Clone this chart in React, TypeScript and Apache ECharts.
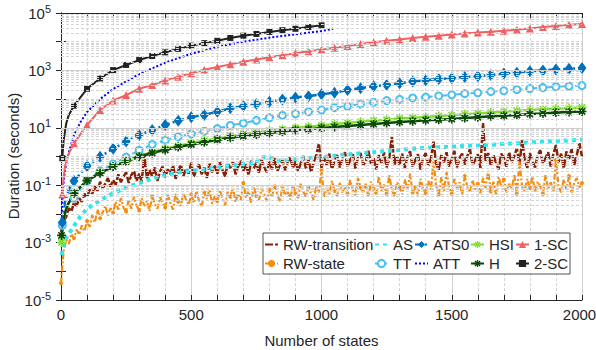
import React, { useEffect, useRef } from "react";
import * as echarts from "echarts";

const FONT = "'Liberation Sans', Arial, Helvetica, sans-serif";
const TEXT = "#262626";

// ---- axes ----
const xName = "Number of states";
const yName = "Duration (seconds)";
const yLabelExponents = [-5, -3, -1, 1, 3, 5];

// ---- shared x positions (states) ----
const states50 = [50, 100, 150, 200, 250, 300, 350, 400, 450, 500, 550, 600, 650, 700, 750, 800, 850, 900, 950, 1000,
  1050, 1100, 1150, 1200, 1250, 1300, 1350, 1400, 1450, 1500, 1550, 1600, 1650, 1700, 1750, 1800, 1850, 1900, 1950, 2000];

// ---- series values (log10 of seconds) ----
const sc2States = [5, 10, 20, 30, 50, 100, 150, 200, 250, 300, 350, 400, 450, 500, 550, 600, 650, 700, 750, 800, 850, 900, 950, 1000];
const sc2Log = [-0.06, 0.55, 1.15, 1.45, 1.77, 2.36, 2.72, 3.01, 3.19, 3.36, 3.50, 3.63, 3.75, 3.86, 3.95, 4.03, 4.13, 4.21, 4.27, 4.34, 4.40, 4.45, 4.51, 4.57];

const sc1Early = [5, 10, 15, 22, 30];
const sc1Log = [-1.32, -0.7, -0.35, -0.12, 0.1,
  0.46, 1.10, 1.62, 1.95, 2.14, 2.36, 2.49, 2.65, 2.78, 2.90, 3.02, 3.12, 3.21, 3.30, 3.38, 3.46, 3.53, 3.60, 3.67, 3.73,
  3.79, 3.85, 3.92, 3.98, 4.03, 4.08, 4.13, 4.17, 4.21, 4.25, 4.29, 4.32, 4.35, 4.38, 4.42, 4.46, 4.51, 4.55, 4.59, 4.62];

const attStates = [2, 5, 10, 15, 20, 30, 40, 50, 75, 100, 150, 200, 250, 300, 400, 500, 600, 700, 800, 900, 1000, 1045];
const attLog = [-2.2, -1.6, -0.9, -0.5, -0.25, 0.15, 0.45, 0.75, 1.2, 1.55, 2.0, 2.35, 2.62, 2.87, 3.27, 3.58, 3.82, 4.0, 4.14, 4.26, 4.37, 4.45];

const ats0Early = [5, 15, 30];
const ats0Log = [-2.3, -1.6, -1.15,
  -0.85, -0.33, -0.01, 0.27, 0.52, 0.75, 0.92, 1.10, 1.25, 1.37, 1.45, 1.56, 1.68, 1.76, 1.83, 1.91, 1.99, 2.06, 2.10, 2.17,
  2.22, 2.32, 2.38, 2.45, 2.49, 2.55, 2.61, 2.66, 2.70, 2.73, 2.77, 2.80, 2.84, 2.89, 2.92, 2.97, 3.00, 3.03, 3.06, 3.08];

const ttEarly = [5, 15, 30];
const ttLog = [-2.4, -1.9, -1.65,
  -1.45, -0.85, -0.5, -0.26, -0.02, 0.22, 0.42, 0.57, 0.69, 0.79, 0.88, 0.97, 1.08, 1.16, 1.26, 1.35, 1.43, 1.49, 1.56, 1.62,
  1.70, 1.75, 1.83, 1.89, 1.95, 1.99, 2.04, 2.07, 2.11, 2.15, 2.19, 2.22, 2.26, 2.29, 2.33, 2.37, 2.40, 2.43, 2.45, 2.47];

const hEarly = [2, 10, 15, 25, 35];
const hLog = [-2.75, -2.2, -1.98, -1.7, -1.52,
  -1.28, -0.84, -0.58, -0.35, -0.17, -0.01, 0.12, 0.23, 0.33, 0.42, 0.50, 0.58, 0.65, 0.71, 0.77, 0.82, 0.87, 0.92, 0.95, 0.99,
  1.03, 1.06, 1.10, 1.13, 1.17, 1.20, 1.23, 1.26, 1.28, 1.31, 1.34, 1.37, 1.40, 1.42, 1.45, 1.48, 1.50, 1.53, 1.55, 1.57];

const hsiEarly = [2, 10, 15, 25, 35];
const hsiLog = [-3.0, -2.25, -2.0, -1.72, -1.53,
  -1.3, -0.84, -0.57, -0.34, -0.15, 0.01, 0.15, 0.27, 0.37, 0.47, 0.55, 0.63, 0.71, 0.78, 0.84, 0.90, 0.95, 1.0, 1.04, 1.08,
  1.13, 1.17, 1.21, 1.25, 1.28, 1.32, 1.35, 1.38, 1.41, 1.44, 1.47, 1.50, 1.53, 1.56, 1.59, 1.62, 1.64, 1.66, 1.69, 1.71];

const asStates = [2, 15, 30, 50, 75, 100, 150, 200, 250, 300, 350, 400, 450, 500, 550, 600, 650, 700, 750, 760, 800, 830, 880, 930, 1000,
  1050, 1100, 1150, 1200, 1250, 1300, 1350, 1400, 1450, 1500, 1550, 1600, 1650, 1700, 1750, 1800, 1850, 1900, 1950, 2000];
const asLog = [-3.43, -2.9, -2.7, -2.42, -2.08, -1.82, -1.52, -1.28, -1.08, -0.93, -0.77, -0.64, -0.56, -0.5, -0.45, -0.39, -0.32, -0.27, -0.22, -0.03, -0.02, -0.15, -0.12, -0.06, -0.03,
  0.03, 0.07, 0.11, 0.15, 0.19, 0.23, 0.27, 0.30, 0.32, 0.34, 0.37, 0.39, 0.41, 0.44, 0.46, 0.49, 0.51, 0.54, 0.56, 0.59];

// RW series: one value every 10 states, 0..2000
const rwTransitionLog = [
  -2.62, -2.25, -2.10, -1.80, -1.92, -1.60, -1.72, -1.45, -1.58, -1.30,
  -1.42, -1.15, -1.30, -1.02, -1.20, -0.88, -1.10, -0.95, -0.75, -1.05,
  -0.82, -0.98, -0.62, -0.90, -0.70, -0.55, -0.92, -0.65, -0.50, -0.85,
  -0.60, -0.88, 0.10, -0.78, -0.45, -0.70, -0.38, -0.85, -0.52, -0.35,
  -0.72, -0.45, -0.62, -0.30, -0.78, -0.50, -0.28, -0.68, -0.42, -0.60,
  -0.22, -0.70, -0.45, -0.28, -0.62, -0.38, -0.75, -0.25, -0.55, -0.32,
  -0.60, -0.20, -0.48, -0.70, -0.25, -0.40, -0.18, -0.62, -0.35, -0.15,
  -0.50, -0.28, -0.65, -0.15, -0.42, -0.22, -0.58, -0.10, -0.38, -0.55,
  -0.18, -0.45, -0.05, -0.52, -0.30, -0.12, -0.48, -0.20, -0.02, -0.40,
  -0.15, -0.50, -0.25, 0.02, -0.42, -0.10, -0.55, -0.20, 0.05, 0.46,
  -0.40, -0.05, -0.30, 0.10, -0.45, -0.15, 0.05, -0.38, -0.10, 0.15,
  -0.35, -0.12, 0.08, -0.42, -0.05, 0.12, -0.30, -0.18, 0.20, -0.25,
  -0.05, -0.45, 0.05, -0.22, 0.15, -0.38, -0.08, 0.69, -0.28, 0.02,
  -0.30, 0.10, -0.40, -0.02, 0.18, -0.35, -0.12, 0.08, -0.45, -0.05,
  0.12, -0.32, -0.08, 0.52, -0.25, -0.45, 0.05, -0.20, 0.15, -0.35,
  -0.10, 0.20, -0.38, -0.05, 0.10, -0.28, 0.02, 0.25, -0.30, -0.12,
  0.08, -0.40, 1.16, -0.15, 0.12, -0.32, 0.05, -0.22, -0.45, 0.10,
  -0.05, -0.35, 0.15, -0.20, 0.02, 0.28, -0.30, 0.58, -0.10, -0.40,
  0.12, -0.18, -0.38, 0.05, 0.22, -0.25, -0.05, 0.15, -0.35, 0.08,
  0.40, -0.20, 0.10, -0.42, 0.18, -0.08, 0.25, -0.30, 0.05, 0.46,
  0.00,
];
const rwStateLog = [
  -4.42, -3.30, -2.90, -3.05, -2.70, -2.85, -2.55, -2.72, -2.40, -2.60,
  -2.25, -2.45, -2.05, -2.30, -1.85, -2.15, -1.95, -1.72, -2.05, -1.80,
  -1.95, -1.58, -1.85, -1.45, -1.78, -1.92, -1.50, -1.82, -1.40, -1.70,
  -1.88, -1.45, -1.72, -1.55, -1.90, -1.38, -1.65, -1.82, -1.42, -1.60,
  -1.78, -1.35, -1.62, -1.85, -1.30, -1.58, -1.72, -1.28, -1.50, -1.68,
  -1.32, -1.62, -1.20, -1.55, -1.75, -1.25, -1.48, -1.15, -1.65, -1.38,
  -1.55, -1.18, -1.45, -1.70, -1.22, -1.40, -1.08, -1.58, -1.30, -1.52,
  -0.92, -1.45, -1.20, -1.62, -1.05, -1.38, -1.52, -1.10, -1.32, -1.55,
  -1.15, -1.42, -0.98, -1.30, -1.58, -1.05, -1.35, -1.20, -1.50, -1.00,
  -1.28, -1.45, -0.95, -1.22, -1.40, -1.08, -1.30, -1.52, -1.02, -1.25,
  -0.47, -1.40, -1.10, -1.32, -0.85, -1.20, -1.38, -0.92, -1.25, -1.05,
  -1.30, -0.82, -1.15, -1.35, -0.75, -1.08, -1.28, -0.95, -1.40, -0.88,
  -1.12, -1.35, -0.70, -1.20, -0.98, -1.30, -0.65, -1.15, -1.38, -0.90,
  -1.05, -1.32, -0.80, -1.18, -0.60, -1.25, -1.02, -1.35, -0.78, -1.10,
  -1.28, -0.85, -1.15, -0.15, -1.00, -1.32, -0.72, -1.20, -0.55, -1.08,
  -1.30, -0.78, -1.12, -0.90, -1.35, -0.68, -1.05, -1.25, -0.82, -1.15,
  -0.95, -1.28, -0.75, -1.10, -0.50, -1.22, -0.88, -1.32, -0.72, -1.05,
  -0.80, -1.25, -0.95, -1.15, -0.62, -1.30, -0.18, -1.05, -1.20, -0.78,
  -1.10, -0.70, -1.25, -0.88, -1.05, -1.30, -0.65, -1.12, -0.90, -1.22,
  -0.12, -1.05, -1.25, -0.80, -1.15, -0.68, -1.28, -0.92, -0.75, -1.08,
  -0.92,
];
const rwStates = rwTransitionLog.map((_, i) => i * 10);

// ---- styling ----
const ASTERISK =
  "path://M-5,-0.9L5,-0.9L5,0.9L-5,0.9Z M-0.9,-5L0.9,-5L0.9,5L-0.9,5Z M-2.9,-4.172L4.172,2.9L2.9,4.172L-4.172,-2.9Z M4.172,-2.9L-2.9,4.172L-4.172,2.9L2.9,-4.172Z";

function buildData(xs: number[], logs: number[], markerStep: number | null) {
  return xs.map((x, i) => {
    const value = [x, Math.pow(10, logs[i])];
    const show = markerStep != null && (i === 0 || x % markerStep === 0);
    return show ? { value } : { value, symbol: "none" };
  });
}

function lineSeries(name: string, xs: number[], logs: number[], o: any) {
  return {
    type: "line",
    name,
    data: buildData(xs, logs, o.markerStep ?? null),
    symbol: o.symbol ?? "none",
    symbolSize: o.symbolSize ?? 6,
    symbolKeepAspect: true,
    showSymbol: true,
    showAllSymbol: true,
    color: o.color,
    itemStyle: {
      color: o.fill ?? o.color,
      borderColor: o.color,
      borderWidth: o.borderWidth ?? 0,
      opacity: 1,
    },
    lineStyle: { color: o.color, width: o.width ?? 2, type: o.type ?? "solid", cap: "butt" },
    emphasis: { disabled: true },
    z: o.z ?? 2,
    clip: true,
  };
}

// gridline values for the log axis (decades and 2..9 multiples)
const gridMarks: any[] = [];
for (let k = -5; k <= 4; k++) {
  for (let m = 1; m <= 9; m++) {
    const v = m * Math.pow(10, k);
    const major = m === 1 && Math.abs(k) % 2 === 1;
    gridMarks.push({
      yAxis: v,
      lineStyle: major
        ? { color: "#cfcfcf", width: 1, type: "solid" }
        : { color: "#d4d4d4", width: 1, type: [3, 2] },
    });
  }
}

const noMarker = { color: "rgba(0,0,0,0)", borderColor: "rgba(0,0,0,0)", borderWidth: 0 };

export default function App() {
  const ref = useRef<HTMLDivElement>(null);
  useEffect(() => {
    if (!ref.current) return;
    const chart = echarts.init(ref.current, undefined, { renderer: "svg" });

    const legendCommon = {
      orient: "vertical",
      top: 237,
      itemWidth: 13,
      itemHeight: 9,
      itemGap: 4,
      padding: 0,
      selectedMode: false,
      textStyle: { fontSize: 15, color: TEXT, fontFamily: FONT },
    };

    const yLabel = {
      margin: 10,
      color: TEXT,
      formatter: (v: number) => {
        const e = Math.round(Math.log10(v));
        if (!yLabelExponents.includes(e)) return "";
        return `{b|10}{s|${e}}`;
      },
      rich: {
        b: { fontSize: 15, color: TEXT, fontFamily: FONT, lineHeight: 20 },
        s: { fontSize: 11, color: TEXT, fontFamily: FONT, lineHeight: 12, verticalAlign: "top" },
      },
    };

    const option: any = {
      animation: false,
      backgroundColor: "#ffffff",
      textStyle: { fontFamily: FONT },
      grid: { left: 61, right: 14, top: 13, bottom: 50, containLabel: false, outerBoundsMode: "none" },
      xAxis: [
        {
          type: "value",
          min: 0,
          max: 2000,
          interval: 500,
          name: xName,
          nameLocation: "middle",
          nameGap: 33,
          nameTextStyle: { fontSize: 15, color: TEXT, fontFamily: FONT },
          axisLine: { lineStyle: { color: TEXT, width: 1 } },
          axisTick: { inside: true, length: 5, lineStyle: { color: TEXT } },
          minorTick: { show: true, splitNumber: 5, length: 5, lineStyle: { color: TEXT } },
          axisLabel: {
            fontSize: 15,
            color: TEXT,
            fontFamily: FONT,
            margin: 7,
            formatter: (v: number) => (v === 2000 ? `{r|${v}}` : String(v)),
            rich: { r: { fontSize: 15, color: TEXT, fontFamily: FONT, padding: [0, 5, 0, 0] } },
          },
          splitLine: { show: true, lineStyle: { color: "#cfcfcf", width: 1 } },
          minorSplitLine: { show: true, lineStyle: { color: "#d4d4d4", width: 1, type: [3, 2] } },
        },
        {
          type: "value",
          position: "top",
          min: 0,
          max: 2000,
          interval: 500,
          axisLine: { show: true, lineStyle: { color: TEXT, width: 1 } },
          axisTick: { inside: true, length: 5, lineStyle: { color: TEXT } },
          minorTick: { show: true, splitNumber: 5, length: 5, lineStyle: { color: TEXT } },
          axisLabel: { show: false },
          splitLine: { show: false },
        },
      ],
      yAxis: [
        {
          type: "log",
          logBase: 10,
          min: 1e-5,
          max: 1e5,
          interval: 1,
          axisLine: { show: true, lineStyle: { color: TEXT, width: 1 } },
          axisTick: { show: true, inside: true, length: 5, lineStyle: { color: TEXT } },
          splitLine: { show: false },
          axisLabel: yLabel,
        },
        {
          type: "log",
          logBase: 10,
          min: 1e-5,
          max: 1e5,
          interval: 1,
          position: "right",
          axisLine: { show: true, lineStyle: { color: TEXT, width: 1 } },
          axisTick: { show: true, inside: true, length: 5, lineStyle: { color: TEXT } },
          axisLabel: { show: false },
          splitLine: { show: false },
        },
      ],
      legend: [
        { ...legendCommon, left: 264, data: [{ name: "RW-transition", itemStyle: noMarker }, "RW-state"] },
        { ...legendCommon, left: 374, data: [{ name: "AS", itemStyle: noMarker }, "TT"] },
        { ...legendCommon, left: 414, data: ["ATS0", { name: "ATT", itemStyle: noMarker }] },
        { ...legendCommon, left: 470, data: ["HSI", "H"] },
        { ...legendCommon, left: 515, data: ["1-SC", "2-SC"] },
      ],
      graphic: [
        {
          type: "rect",
          z: 3,
          shape: { x: 263, y: 233, width: 307, height: 41 },
          style: { fill: "#ffffff", stroke: TEXT, lineWidth: 0.8 },
        },
        {
          type: "text",
          x: 13,
          y: 156,
          rotation: Math.PI / 2,
          z: 5,
          style: {
            text: yName,
            fontSize: 15,
            fontFamily: FONT,
            fill: TEXT,
            align: "center",
            verticalAlign: "middle",
          },
        },
      ],
      series: [
        {
          type: "line",
          name: "grid",
          data: [],
          z: 1,
          silent: true,
          markLine: {
            silent: true,
            symbol: ["none", "none"],
            label: { show: false },
            emphasis: { disabled: true },
            data: gridMarks,
          },
        },
        lineSeries("RW-transition", rwStates, rwTransitionLog, { color: "#862208", width: 2.5, type: [8, 2] }),
        lineSeries("RW-state", rwStates, rwStateLog, {
          color: "#F38E12", width: 2.2, type: [6, 2, 2, 2], symbol: "circle", symbolSize: 4, markerStep: 50,
        }),
        lineSeries("AS", asStates, asLog, { color: "#2EE4EE", width: 4, type: [4, 4] }),
        lineSeries("TT", [...ttEarly, ...states50], ttLog, {
          color: "#4DBEEE", width: 2, type: [7, 3, 2, 3], symbol: "circle", symbolSize: 7, markerStep: 50,
          fill: "#ffffff", borderWidth: 2,
        }),
        lineSeries("ATS0", [...ats0Early, ...states50], ats0Log, {
          color: "#0072BD", width: 2.5, type: [7, 3, 2, 3], symbol: "diamond", symbolSize: [9, 12], markerStep: 50,
        }),
        lineSeries("ATT", attStates, attLog, { color: "#0000FF", width: 2, type: [2, 2] }),
        lineSeries("HSI", [...hsiEarly, ...states50], hsiLog, {
          color: "#82DC32", width: 2.5, symbol: ASTERISK, symbolSize: 9, markerStep: 50,
        }),
        lineSeries("H", [...hEarly, ...states50], hLog, {
          color: "#0A480A", width: 2.5, symbol: ASTERISK, symbolSize: 9, markerStep: 50,
        }),
        lineSeries("1-SC", [...sc1Early, ...states50], sc1Log, {
          color: "#F06262", width: 2, symbol: "triangle", symbolSize: 8, markerStep: 50,
        }),
        lineSeries("2-SC", sc2States, sc2Log, {
          color: "#222222", width: 2, symbol: "rect", symbolSize: 6, markerStep: 50,
        }),
      ],
    };

    chart.setOption(option);
    return () => chart.dispose();
  }, []);

  return <div ref={ref} style={{ width: 596, height: 350, position: "absolute", left: 0, top: 0 }} />;
}
